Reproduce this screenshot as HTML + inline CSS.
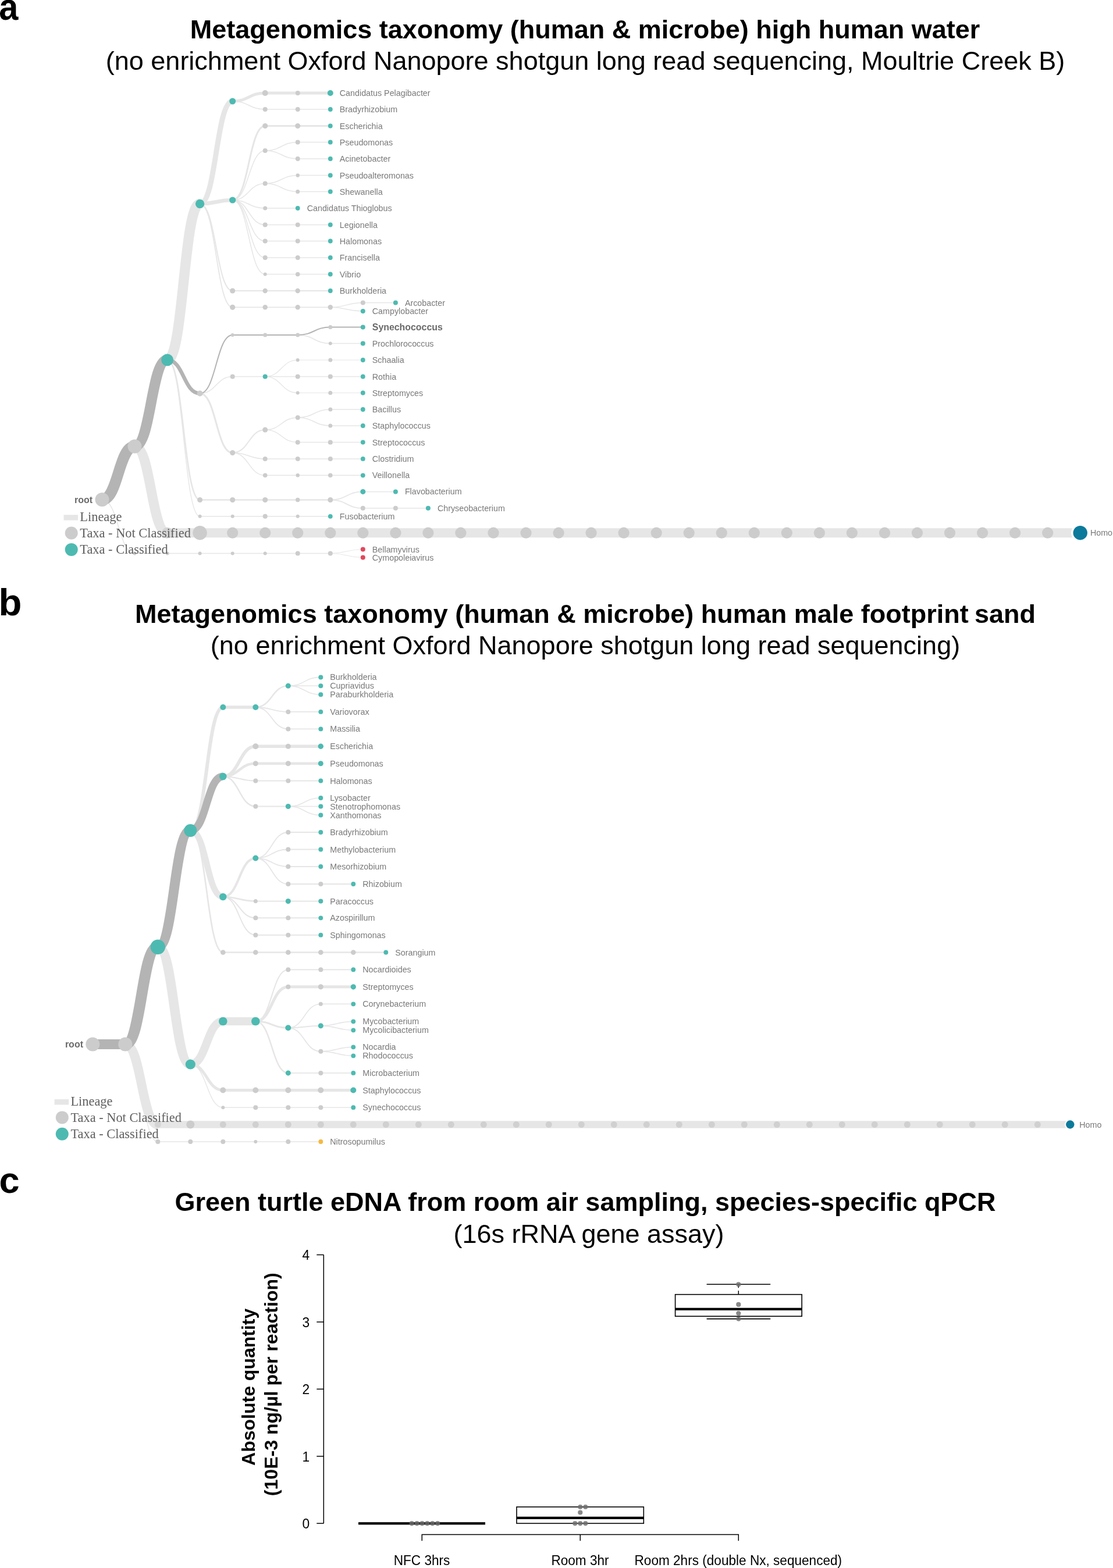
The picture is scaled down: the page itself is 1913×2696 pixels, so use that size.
<!DOCTYPE html>
<html lang="en"><head><meta charset="utf-8"><title>Figure</title>
<style>
html,body{margin:0;padding:0;background:#fff}
body{width:1913px;height:2696px;overflow:hidden}
svg{display:block;font-family:"Liberation Sans","DejaVu Sans",sans-serif}
</style></head>
<body>
<svg width="1913" height="2696" viewBox="0 0 1913 2696">
<rect width="1913" height="2696" fill="#fff"/>
<g id="panel-a"><g fill="none"><path d="M231.5,767.4C259.6,767.4 259.6,916.2 287.6,916.2" stroke="#e6e6e6" stroke-width="17"/><path d="M287.6,916.2H343.6" stroke="#e6e6e6" stroke-width="16"/><path d="M343.6,916.2H399.7" stroke="#e6e6e6" stroke-width="16"/><path d="M399.7,916.2H455.7" stroke="#e6e6e6" stroke-width="16"/><path d="M455.7,916.2H511.7" stroke="#e6e6e6" stroke-width="16"/><path d="M511.7,916.2H567.8" stroke="#e6e6e6" stroke-width="16"/><path d="M567.8,916.2H623.8" stroke="#e6e6e6" stroke-width="16"/><path d="M623.8,916.2H679.9" stroke="#e6e6e6" stroke-width="16"/><path d="M679.9,916.2H735.9" stroke="#e6e6e6" stroke-width="16"/><path d="M735.9,916.2H791.9" stroke="#e6e6e6" stroke-width="16"/><path d="M791.9,916.2H848.0" stroke="#e6e6e6" stroke-width="16"/><path d="M848.0,916.2H904.0" stroke="#e6e6e6" stroke-width="16"/><path d="M904.0,916.2H960.1" stroke="#e6e6e6" stroke-width="16"/><path d="M960.1,916.2H1016.1" stroke="#e6e6e6" stroke-width="16"/><path d="M1016.1,916.2H1072.1" stroke="#e6e6e6" stroke-width="16"/><path d="M1072.1,916.2H1128.2" stroke="#e6e6e6" stroke-width="16"/><path d="M1128.2,916.2H1184.2" stroke="#e6e6e6" stroke-width="16"/><path d="M1184.2,916.2H1240.3" stroke="#e6e6e6" stroke-width="16"/><path d="M1240.3,916.2H1296.3" stroke="#e6e6e6" stroke-width="16"/><path d="M1296.3,916.2H1352.3" stroke="#e6e6e6" stroke-width="16"/><path d="M1352.3,916.2H1408.4" stroke="#e6e6e6" stroke-width="16"/><path d="M1408.4,916.2H1464.4" stroke="#e6e6e6" stroke-width="16"/><path d="M1464.4,916.2H1520.5" stroke="#e6e6e6" stroke-width="16"/><path d="M1520.5,916.2H1576.5" stroke="#e6e6e6" stroke-width="16"/><path d="M1576.5,916.2H1632.5" stroke="#e6e6e6" stroke-width="16"/><path d="M1632.5,916.2H1688.6" stroke="#e6e6e6" stroke-width="16"/><path d="M1688.6,916.2H1744.6" stroke="#e6e6e6" stroke-width="16"/><path d="M1744.6,916.2H1800.7" stroke="#e6e6e6" stroke-width="16"/><path d="M1800.7,916.2H1856.7" stroke="#e6e6e6" stroke-width="16"/><path d="M175.5,859.0C203.5,859.0 203.5,951.5 231.5,951.5" stroke="#e6e6e6" stroke-width="1.5"/><path d="M231.5,951.5H287.6" stroke="#e6e6e6" stroke-width="1.5"/><path d="M287.6,951.5H343.6" stroke="#e6e6e6" stroke-width="1.5"/><path d="M343.6,951.5H399.7" stroke="#e6e6e6" stroke-width="1.5"/><path d="M399.7,951.5H455.7" stroke="#e6e6e6" stroke-width="1.5"/><path d="M455.7,951.5H511.7" stroke="#e6e6e6" stroke-width="1.5"/><path d="M511.7,951.5H567.8" stroke="#e6e6e6" stroke-width="1.5"/><path d="M567.8,951.5C595.8,951.5 595.8,944.5 623.8,944.5" stroke="#e6e6e6" stroke-width="1.2"/><path d="M567.8,951.5C595.8,951.5 595.8,958.5 623.8,958.5" stroke="#e6e6e6" stroke-width="1.2"/><path d="M287.6,618.8C315.6,618.8 315.6,350.5 343.6,350.5" stroke="#e6e6e6" stroke-width="17.5"/><path d="M287.6,618.8C315.6,618.8 315.6,859.5 343.6,859.5" stroke="#e6e6e6" stroke-width="2.6"/><path d="M343.6,859.5H399.7" stroke="#e6e6e6" stroke-width="2.6"/><path d="M399.7,859.5H455.7" stroke="#e6e6e6" stroke-width="2.6"/><path d="M455.7,859.5H511.7" stroke="#e6e6e6" stroke-width="2.6"/><path d="M511.7,859.5H567.8" stroke="#e6e6e6" stroke-width="2.6"/><path d="M567.8,859.5C595.8,859.5 595.8,845.4 623.8,845.4" stroke="#e6e6e6" stroke-width="1.8"/><path d="M623.8,845.4H679.9" stroke="#e6e6e6" stroke-width="1.5"/><path d="M567.8,859.5C595.8,859.5 595.8,873.8 623.8,873.8" stroke="#e6e6e6" stroke-width="1.8"/><path d="M623.8,873.8H679.9" stroke="#e6e6e6" stroke-width="1.5"/><path d="M679.9,873.8H735.9" stroke="#e6e6e6" stroke-width="1.5"/><path d="M287.6,618.8C315.6,618.8 315.6,887.8 343.6,887.8" stroke="#e6e6e6" stroke-width="1.4"/><path d="M343.6,887.8H399.7" stroke="#e6e6e6" stroke-width="1.4"/><path d="M399.7,887.8H455.7" stroke="#e6e6e6" stroke-width="1.4"/><path d="M455.7,887.8H511.7" stroke="#e6e6e6" stroke-width="1.4"/><path d="M511.7,887.8H567.8" stroke="#e6e6e6" stroke-width="1.4"/><path d="M343.6,350.5C371.6,350.5 371.6,174.0 399.7,174.0" stroke="#e6e6e6" stroke-width="9"/><path d="M399.7,174.0C427.7,174.0 427.7,160.0 455.7,160.0" stroke="#e6e6e6" stroke-width="5"/><path d="M455.7,160.0H511.7" stroke="#e6e6e6" stroke-width="5"/><path d="M511.7,160.0H567.8" stroke="#e6e6e6" stroke-width="5"/><path d="M399.7,174.0C427.7,174.0 427.7,188.0 455.7,188.0" stroke="#e6e6e6" stroke-width="1.5"/><path d="M455.7,188.0H511.7" stroke="#e6e6e6" stroke-width="1.5"/><path d="M511.7,188.0H567.8" stroke="#e6e6e6" stroke-width="1.5"/><path d="M343.6,350.5C371.6,350.5 371.6,344.0 399.7,344.0" stroke="#e6e6e6" stroke-width="6.5"/><path d="M399.7,344.0C427.7,344.0 427.7,216.5 455.7,216.5" stroke="#e6e6e6" stroke-width="3"/><path d="M455.7,216.5H511.7" stroke="#e6e6e6" stroke-width="3"/><path d="M511.7,216.5H567.8" stroke="#e6e6e6" stroke-width="3"/><path d="M399.7,344.0C427.7,344.0 427.7,259.0 455.7,259.0" stroke="#e6e6e6" stroke-width="1.5"/><path d="M455.7,259.0C483.7,259.0 483.7,244.5 511.7,244.5" stroke="#e6e6e6" stroke-width="1.5"/><path d="M511.7,244.5H567.8" stroke="#e6e6e6" stroke-width="1.5"/><path d="M455.7,259.0C483.7,259.0 483.7,273.0 511.7,273.0" stroke="#e6e6e6" stroke-width="1.5"/><path d="M511.7,273.0H567.8" stroke="#e6e6e6" stroke-width="1.5"/><path d="M399.7,344.0C427.7,344.0 427.7,315.5 455.7,315.5" stroke="#e6e6e6" stroke-width="1.5"/><path d="M455.7,315.5C483.7,315.5 483.7,301.5 511.7,301.5" stroke="#e6e6e6" stroke-width="1.5"/><path d="M511.7,301.5H567.8" stroke="#e6e6e6" stroke-width="1.5"/><path d="M455.7,315.5C483.7,315.5 483.7,329.5 511.7,329.5" stroke="#e6e6e6" stroke-width="1.5"/><path d="M511.7,329.5H567.8" stroke="#e6e6e6" stroke-width="1.5"/><path d="M399.7,344.0C427.7,344.0 427.7,358.0 455.7,358.0" stroke="#e6e6e6" stroke-width="1.5"/><path d="M455.7,358.0H511.7" stroke="#e6e6e6" stroke-width="1.5"/><path d="M399.7,344.0C427.7,344.0 427.7,386.5 455.7,386.5" stroke="#e6e6e6" stroke-width="1.5"/><path d="M455.7,386.5H511.7" stroke="#e6e6e6" stroke-width="1.5"/><path d="M511.7,386.5H567.8" stroke="#e6e6e6" stroke-width="1.5"/><path d="M399.7,344.0C427.7,344.0 427.7,414.5 455.7,414.5" stroke="#e6e6e6" stroke-width="1.5"/><path d="M455.7,414.5H511.7" stroke="#e6e6e6" stroke-width="1.5"/><path d="M511.7,414.5H567.8" stroke="#e6e6e6" stroke-width="1.5"/><path d="M399.7,344.0C427.7,344.0 427.7,443.0 455.7,443.0" stroke="#e6e6e6" stroke-width="1.5"/><path d="M455.7,443.0H511.7" stroke="#e6e6e6" stroke-width="1.5"/><path d="M511.7,443.0H567.8" stroke="#e6e6e6" stroke-width="1.5"/><path d="M399.7,344.0C427.7,344.0 427.7,471.5 455.7,471.5" stroke="#e6e6e6" stroke-width="1.5"/><path d="M455.7,471.5H511.7" stroke="#e6e6e6" stroke-width="1.5"/><path d="M511.7,471.5H567.8" stroke="#e6e6e6" stroke-width="1.5"/><path d="M343.6,350.5C371.6,350.5 371.6,500.0 399.7,500.0" stroke="#e6e6e6" stroke-width="2"/><path d="M399.7,500.0H455.7" stroke="#e6e6e6" stroke-width="2"/><path d="M455.7,500.0H511.7" stroke="#e6e6e6" stroke-width="2"/><path d="M511.7,500.0H567.8" stroke="#e6e6e6" stroke-width="2"/><path d="M343.6,350.5C371.6,350.5 371.6,528.3 399.7,528.3" stroke="#e6e6e6" stroke-width="1.8"/><path d="M399.7,528.3H455.7" stroke="#e6e6e6" stroke-width="1.8"/><path d="M455.7,528.3H511.7" stroke="#e6e6e6" stroke-width="1.8"/><path d="M511.7,528.3H567.8" stroke="#e6e6e6" stroke-width="1.8"/><path d="M567.8,528.3C595.8,528.3 595.8,520.5 623.8,520.5" stroke="#e6e6e6" stroke-width="1.5"/><path d="M623.8,520.5H679.9" stroke="#e6e6e6" stroke-width="1.5"/><path d="M567.8,528.3C595.8,528.3 595.8,535.0 623.8,535.0" stroke="#e6e6e6" stroke-width="1.5"/><path d="M511.7,576.0C539.8,576.0 539.8,590.5 567.8,590.5" stroke="#e6e6e6" stroke-width="1.5"/><path d="M567.8,590.5H623.8" stroke="#e6e6e6" stroke-width="1.5"/><path d="M343.6,676.5C371.6,676.5 371.6,647.5 399.7,647.5" stroke="#e6e6e6" stroke-width="1.5"/><path d="M399.7,647.5H455.7" stroke="#e6e6e6" stroke-width="1.5"/><path d="M455.7,647.5C483.7,647.5 483.7,619.0 511.7,619.0" stroke="#e6e6e6" stroke-width="1.2"/><path d="M511.7,619.0H567.8" stroke="#e6e6e6" stroke-width="1.2"/><path d="M567.8,619.0H623.8" stroke="#e6e6e6" stroke-width="1.2"/><path d="M455.7,647.5H511.7" stroke="#e6e6e6" stroke-width="1.5"/><path d="M511.7,647.5H567.8" stroke="#e6e6e6" stroke-width="1.5"/><path d="M567.8,647.5H623.8" stroke="#e6e6e6" stroke-width="1.5"/><path d="M455.7,647.5C483.7,647.5 483.7,675.5 511.7,675.5" stroke="#e6e6e6" stroke-width="1.2"/><path d="M511.7,675.5H567.8" stroke="#e6e6e6" stroke-width="1.2"/><path d="M567.8,675.5H623.8" stroke="#e6e6e6" stroke-width="1.2"/><path d="M343.6,676.5C371.6,676.5 371.6,778.5 399.7,778.5" stroke="#e6e6e6" stroke-width="3"/><path d="M399.7,778.5C427.7,778.5 427.7,739.0 455.7,739.0" stroke="#e6e6e6" stroke-width="2"/><path d="M455.7,739.0C483.7,739.0 483.7,718.0 511.7,718.0" stroke="#e6e6e6" stroke-width="1.5"/><path d="M511.7,718.0C539.8,718.0 539.8,704.0 567.8,704.0" stroke="#e6e6e6" stroke-width="1.5"/><path d="M567.8,704.0H623.8" stroke="#e6e6e6" stroke-width="1.5"/><path d="M511.7,718.0C539.8,718.0 539.8,732.0 567.8,732.0" stroke="#e6e6e6" stroke-width="1.5"/><path d="M567.8,732.0H623.8" stroke="#e6e6e6" stroke-width="1.5"/><path d="M455.7,739.0C483.7,739.0 483.7,760.5 511.7,760.5" stroke="#e6e6e6" stroke-width="1.5"/><path d="M511.7,760.5H567.8" stroke="#e6e6e6" stroke-width="1.5"/><path d="M567.8,760.5H623.8" stroke="#e6e6e6" stroke-width="1.5"/><path d="M399.7,778.5C427.7,778.5 427.7,788.9 455.7,788.9" stroke="#e6e6e6" stroke-width="1.5"/><path d="M455.7,788.9H511.7" stroke="#e6e6e6" stroke-width="1.5"/><path d="M511.7,788.9H567.8" stroke="#e6e6e6" stroke-width="1.5"/><path d="M567.8,788.9H623.8" stroke="#e6e6e6" stroke-width="1.5"/><path d="M399.7,778.5C427.7,778.5 427.7,817.3 455.7,817.3" stroke="#e6e6e6" stroke-width="1.5"/><path d="M455.7,817.3H511.7" stroke="#e6e6e6" stroke-width="1.5"/><path d="M511.7,817.3H567.8" stroke="#e6e6e6" stroke-width="1.5"/><path d="M567.8,817.3H623.8" stroke="#e6e6e6" stroke-width="1.5"/><path d="M175.5,859.0C203.5,859.0 203.5,767.4 231.5,767.4" stroke="#b4b4b4" stroke-width="19"/><path d="M231.5,767.4C259.6,767.4 259.6,618.8 287.6,618.8" stroke="#b4b4b4" stroke-width="18"/><path d="M287.6,618.8C315.6,618.8 315.6,676.5 343.6,676.5" stroke="#b4b4b4" stroke-width="6.5"/><path d="M343.6,676.5C371.6,676.5 371.6,576.0 399.7,576.0" stroke="#b4b4b4" stroke-width="2"/><path d="M399.7,576.0H455.7" stroke="#b4b4b4" stroke-width="2"/><path d="M455.7,576.0H511.7" stroke="#b4b4b4" stroke-width="2"/><path d="M511.7,576.0C539.8,576.0 539.8,562.5 567.8,562.5" stroke="#b4b4b4" stroke-width="2"/><path d="M567.8,562.5H623.8" stroke="#b4b4b4" stroke-width="2"/></g><g><circle cx="175.5" cy="859.0" r="12" fill="#cccccc"/><circle cx="231.5" cy="767.4" r="12" fill="#cccccc"/><circle cx="287.6" cy="618.8" r="10.4" fill="#4dbab1"/><circle cx="287.6" cy="916.2" r="9.5" fill="#d4d4d4"/><circle cx="343.6" cy="916.2" r="12.2" fill="#cccccc"/><circle cx="399.7" cy="916.2" r="9.6" fill="#cccccc"/><circle cx="455.7" cy="916.2" r="9.6" fill="#cccccc"/><circle cx="511.7" cy="916.2" r="9.6" fill="#cccccc"/><circle cx="567.8" cy="916.2" r="9.6" fill="#cccccc"/><circle cx="623.8" cy="916.2" r="9.6" fill="#cccccc"/><circle cx="679.9" cy="916.2" r="9.6" fill="#cccccc"/><circle cx="735.9" cy="916.2" r="9.6" fill="#cccccc"/><circle cx="791.9" cy="916.2" r="9.6" fill="#cccccc"/><circle cx="848.0" cy="916.2" r="9.6" fill="#cccccc"/><circle cx="904.0" cy="916.2" r="9.6" fill="#cccccc"/><circle cx="960.1" cy="916.2" r="9.6" fill="#cccccc"/><circle cx="1016.1" cy="916.2" r="9.6" fill="#cccccc"/><circle cx="1072.1" cy="916.2" r="9.6" fill="#cccccc"/><circle cx="1128.2" cy="916.2" r="9.6" fill="#cccccc"/><circle cx="1184.2" cy="916.2" r="9.6" fill="#cccccc"/><circle cx="1240.3" cy="916.2" r="9.6" fill="#cccccc"/><circle cx="1296.3" cy="916.2" r="9.6" fill="#cccccc"/><circle cx="1352.3" cy="916.2" r="9.6" fill="#cccccc"/><circle cx="1408.4" cy="916.2" r="9.6" fill="#cccccc"/><circle cx="1464.4" cy="916.2" r="9.6" fill="#cccccc"/><circle cx="1520.5" cy="916.2" r="9.6" fill="#cccccc"/><circle cx="1576.5" cy="916.2" r="9.6" fill="#cccccc"/><circle cx="1632.5" cy="916.2" r="9.6" fill="#cccccc"/><circle cx="1688.6" cy="916.2" r="9.6" fill="#cccccc"/><circle cx="1744.6" cy="916.2" r="9.6" fill="#cccccc"/><circle cx="1800.7" cy="916.2" r="9.6" fill="#cccccc"/><circle cx="1856.7" cy="916.2" r="12.2" fill="#0c7a9b" stroke="#fff" stroke-width="6.8" paint-order="stroke"/><circle cx="231.5" cy="951.5" r="3" fill="#cccccc"/><circle cx="287.6" cy="951.5" r="3" fill="#cccccc"/><circle cx="343.6" cy="951.5" r="3" fill="#cccccc"/><circle cx="399.7" cy="951.5" r="3" fill="#cccccc"/><circle cx="455.7" cy="951.5" r="3" fill="#cccccc"/><circle cx="511.7" cy="951.5" r="4" fill="#cccccc"/><circle cx="567.8" cy="951.5" r="4" fill="#cccccc"/><circle cx="623.8" cy="944.5" r="4" fill="#e0485c"/><circle cx="623.8" cy="958.5" r="4" fill="#e0485c"/><circle cx="343.6" cy="350.5" r="7.7" fill="#4dbab1"/><circle cx="343.6" cy="676.5" r="5" fill="#cccccc"/><circle cx="343.6" cy="859.5" r="4.5" fill="#cccccc"/><circle cx="399.7" cy="859.5" r="4.5" fill="#cccccc"/><circle cx="455.7" cy="859.5" r="4.5" fill="#cccccc"/><circle cx="511.7" cy="859.5" r="3.7" fill="#cccccc"/><circle cx="567.8" cy="859.5" r="4.5" fill="#cccccc"/><circle cx="623.8" cy="845.4" r="4.5" fill="#4dbab1"/><circle cx="679.9" cy="845.4" r="4" fill="#4dbab1"/><circle cx="623.8" cy="873.8" r="4" fill="#cccccc"/><circle cx="679.9" cy="873.8" r="4" fill="#cccccc"/><circle cx="735.9" cy="873.8" r="4" fill="#4dbab1"/><circle cx="343.6" cy="887.8" r="3" fill="#cccccc"/><circle cx="399.7" cy="887.8" r="3" fill="#cccccc"/><circle cx="455.7" cy="887.8" r="4" fill="#cccccc"/><circle cx="511.7" cy="887.8" r="3" fill="#cccccc"/><circle cx="567.8" cy="887.8" r="3.9" fill="#4dbab1"/><circle cx="399.7" cy="174.0" r="5.5" fill="#4dbab1"/><circle cx="455.7" cy="160.0" r="5" fill="#cccccc"/><circle cx="511.7" cy="160.0" r="4" fill="#cccccc"/><circle cx="567.8" cy="160.0" r="5" fill="#4dbab1"/><circle cx="455.7" cy="188.0" r="4" fill="#cccccc"/><circle cx="511.7" cy="188.0" r="4" fill="#cccccc"/><circle cx="567.8" cy="188.0" r="3.9" fill="#4dbab1"/><circle cx="399.7" cy="344.0" r="5.6" fill="#4dbab1"/><circle cx="455.7" cy="216.5" r="4.5" fill="#cccccc"/><circle cx="511.7" cy="216.5" r="4.5" fill="#cccccc"/><circle cx="567.8" cy="216.5" r="3.9" fill="#4dbab1"/><circle cx="455.7" cy="259.0" r="4" fill="#cccccc"/><circle cx="511.7" cy="244.5" r="4" fill="#cccccc"/><circle cx="567.8" cy="244.5" r="3.9" fill="#4dbab1"/><circle cx="511.7" cy="273.0" r="4" fill="#cccccc"/><circle cx="567.8" cy="273.0" r="3.9" fill="#4dbab1"/><circle cx="455.7" cy="315.5" r="4" fill="#cccccc"/><circle cx="511.7" cy="301.5" r="3.2" fill="#cccccc"/><circle cx="567.8" cy="301.5" r="3.9" fill="#4dbab1"/><circle cx="511.7" cy="329.5" r="3.5" fill="#cccccc"/><circle cx="567.8" cy="329.5" r="3.9" fill="#4dbab1"/><circle cx="455.7" cy="358.0" r="3.5" fill="#cccccc"/><circle cx="511.7" cy="358.0" r="3.9" fill="#4dbab1"/><circle cx="455.7" cy="386.5" r="4" fill="#cccccc"/><circle cx="511.7" cy="386.5" r="4" fill="#cccccc"/><circle cx="567.8" cy="386.5" r="3.9" fill="#4dbab1"/><circle cx="455.7" cy="414.5" r="4" fill="#cccccc"/><circle cx="511.7" cy="414.5" r="4" fill="#cccccc"/><circle cx="567.8" cy="414.5" r="3.9" fill="#4dbab1"/><circle cx="455.7" cy="443.0" r="4" fill="#cccccc"/><circle cx="511.7" cy="443.0" r="4" fill="#cccccc"/><circle cx="567.8" cy="443.0" r="3.9" fill="#4dbab1"/><circle cx="455.7" cy="471.5" r="3" fill="#cccccc"/><circle cx="511.7" cy="471.5" r="3.8" fill="#cccccc"/><circle cx="567.8" cy="471.5" r="3.9" fill="#4dbab1"/><circle cx="399.7" cy="500.0" r="4.6" fill="#cccccc"/><circle cx="455.7" cy="500.0" r="4.2" fill="#cccccc"/><circle cx="511.7" cy="500.0" r="4.2" fill="#cccccc"/><circle cx="567.8" cy="500.0" r="3.9" fill="#4dbab1"/><circle cx="399.7" cy="528.3" r="4.6" fill="#cccccc"/><circle cx="455.7" cy="528.3" r="4.2" fill="#cccccc"/><circle cx="511.7" cy="528.3" r="4.2" fill="#cccccc"/><circle cx="567.8" cy="528.3" r="4.2" fill="#cccccc"/><circle cx="623.8" cy="520.5" r="4" fill="#cccccc"/><circle cx="679.9" cy="520.5" r="4" fill="#4dbab1"/><circle cx="623.8" cy="535.0" r="4" fill="#4dbab1"/><circle cx="399.7" cy="576.0" r="3" fill="#cccccc"/><circle cx="455.7" cy="576.0" r="3.5" fill="#cccccc"/><circle cx="511.7" cy="576.0" r="3.5" fill="#cccccc"/><circle cx="567.8" cy="562.5" r="3.5" fill="#cccccc"/><circle cx="623.8" cy="562.5" r="4" fill="#4dbab1"/><circle cx="567.8" cy="590.5" r="3" fill="#cccccc"/><circle cx="623.8" cy="590.5" r="4" fill="#4dbab1"/><circle cx="399.7" cy="647.5" r="4" fill="#cccccc"/><circle cx="455.7" cy="647.5" r="4" fill="#4dbab1"/><circle cx="511.7" cy="619.0" r="3" fill="#cccccc"/><circle cx="567.8" cy="619.0" r="3.5" fill="#cccccc"/><circle cx="623.8" cy="619.0" r="3.9" fill="#4dbab1"/><circle cx="511.7" cy="647.5" r="4" fill="#cccccc"/><circle cx="567.8" cy="647.5" r="4" fill="#cccccc"/><circle cx="623.8" cy="647.5" r="3.9" fill="#4dbab1"/><circle cx="511.7" cy="675.5" r="3" fill="#cccccc"/><circle cx="567.8" cy="675.5" r="3.5" fill="#cccccc"/><circle cx="623.8" cy="675.5" r="3.9" fill="#4dbab1"/><circle cx="399.7" cy="778.5" r="4.5" fill="#cccccc"/><circle cx="455.7" cy="739.0" r="4.5" fill="#cccccc"/><circle cx="511.7" cy="718.0" r="4" fill="#cccccc"/><circle cx="567.8" cy="704.0" r="3.5" fill="#cccccc"/><circle cx="623.8" cy="704.0" r="3.9" fill="#4dbab1"/><circle cx="567.8" cy="732.0" r="3.5" fill="#cccccc"/><circle cx="623.8" cy="732.0" r="3.9" fill="#4dbab1"/><circle cx="511.7" cy="760.5" r="4" fill="#cccccc"/><circle cx="567.8" cy="760.5" r="4" fill="#cccccc"/><circle cx="623.8" cy="760.5" r="3.9" fill="#4dbab1"/><circle cx="455.7" cy="788.9" r="4" fill="#cccccc"/><circle cx="511.7" cy="788.9" r="4" fill="#cccccc"/><circle cx="567.8" cy="788.9" r="4" fill="#cccccc"/><circle cx="623.8" cy="788.9" r="3.9" fill="#4dbab1"/><circle cx="455.7" cy="817.3" r="3.8" fill="#cccccc"/><circle cx="511.7" cy="817.3" r="3.2" fill="#cccccc"/><circle cx="567.8" cy="817.3" r="3.8" fill="#cccccc"/><circle cx="623.8" cy="817.3" r="3.9" fill="#4dbab1"/></g><g font-size="14.3" fill="#7a7a7a"><text x="159.2" y="864.6" text-anchor="end" font-weight="bold" font-size="16" fill="#6a6a6a">root</text><text x="1873.9" y="921.2">Homo</text><text x="639.8" y="949.5">Bellamyvirus</text><text x="639.8" y="963.5">Cymopoleiavirus</text><text x="695.9" y="850.4">Flavobacterium</text><text x="751.9" y="878.8">Chryseobacterium</text><text x="583.8" y="892.8">Fusobacterium</text><text x="583.8" y="165.0">Candidatus Pelagibacter</text><text x="583.8" y="193.0">Bradyrhizobium</text><text x="583.8" y="221.5">Escherichia</text><text x="583.8" y="249.5">Pseudomonas</text><text x="583.8" y="278.0">Acinetobacter</text><text x="583.8" y="306.5">Pseudoalteromonas</text><text x="583.8" y="334.5">Shewanella</text><text x="527.7" y="363.0">Candidatus Thioglobus</text><text x="583.8" y="391.5">Legionella</text><text x="583.8" y="419.5">Halomonas</text><text x="583.8" y="448.0">Francisella</text><text x="583.8" y="476.5">Vibrio</text><text x="583.8" y="505.0">Burkholderia</text><text x="695.9" y="525.5">Arcobacter</text><text x="639.8" y="540.0">Campylobacter</text><text x="639.8" y="568.0" font-weight="bold" font-size="15.9" fill="#6a6a6a">Synechococcus</text><text x="639.8" y="595.5">Prochlorococcus</text><text x="639.8" y="624.0">Schaalia</text><text x="639.8" y="652.5">Rothia</text><text x="639.8" y="680.5">Streptomyces</text><text x="639.8" y="709.0">Bacillus</text><text x="639.8" y="737.0">Staphylococcus</text><text x="639.8" y="765.5">Streptococcus</text><text x="639.8" y="793.9">Clostridium</text><text x="639.8" y="822.3">Veillonella</text></g><g font-family="'Liberation Serif','DejaVu Serif',serif" font-size="22.4" fill="#606060">
<rect x="109.5" y="885.2" width="24.6" height="9.4" fill="#e6e6e6"/>
<text x="137.3" y="896.0">Lineage</text>
<circle cx="122.7" cy="916.5" r="11" fill="#cccccc"/>
<text x="137.3" y="924.1">Taxa - Not Classified</text>
<circle cx="122.7" cy="944.9" r="11" fill="#4dbab1"/>
<text x="137.3" y="952.4">Taxa - Classified</text>
</g></g>
<g id="panel-b"><g fill="none"><path d="M215.3,1795.5C243.3,1795.5 243.3,1933.5 271.3,1933.5" stroke="#e6e6e6" stroke-width="16"/><path d="M271.3,1933.5H327.3" stroke="#e6e6e6" stroke-width="12.5"/><path d="M327.3,1933.5H383.3" stroke="#e6e6e6" stroke-width="12.5"/><path d="M383.3,1933.5H439.3" stroke="#e6e6e6" stroke-width="12.5"/><path d="M439.3,1933.5H495.3" stroke="#e6e6e6" stroke-width="12.5"/><path d="M495.3,1933.5H551.3" stroke="#e6e6e6" stroke-width="12.5"/><path d="M551.3,1933.5H607.3" stroke="#e6e6e6" stroke-width="12.5"/><path d="M607.3,1933.5H663.3" stroke="#e6e6e6" stroke-width="12.5"/><path d="M663.3,1933.5H719.3" stroke="#e6e6e6" stroke-width="12.5"/><path d="M719.3,1933.5H775.3" stroke="#e6e6e6" stroke-width="12.5"/><path d="M775.3,1933.5H831.3" stroke="#e6e6e6" stroke-width="12.5"/><path d="M831.3,1933.5H887.3" stroke="#e6e6e6" stroke-width="12.5"/><path d="M887.3,1933.5H943.3" stroke="#e6e6e6" stroke-width="12.5"/><path d="M943.3,1933.5H999.3" stroke="#e6e6e6" stroke-width="12.5"/><path d="M999.3,1933.5H1055.3" stroke="#e6e6e6" stroke-width="12.5"/><path d="M1055.3,1933.5H1111.3" stroke="#e6e6e6" stroke-width="12.5"/><path d="M1111.3,1933.5H1167.3" stroke="#e6e6e6" stroke-width="12.5"/><path d="M1167.3,1933.5H1223.3" stroke="#e6e6e6" stroke-width="12.5"/><path d="M1223.3,1933.5H1279.3" stroke="#e6e6e6" stroke-width="12.5"/><path d="M1279.3,1933.5H1335.3" stroke="#e6e6e6" stroke-width="12.5"/><path d="M1335.3,1933.5H1391.3" stroke="#e6e6e6" stroke-width="12.5"/><path d="M1391.3,1933.5H1447.3" stroke="#e6e6e6" stroke-width="12.5"/><path d="M1447.3,1933.5H1503.3" stroke="#e6e6e6" stroke-width="12.5"/><path d="M1503.3,1933.5H1559.3" stroke="#e6e6e6" stroke-width="12.5"/><path d="M1559.3,1933.5H1615.3" stroke="#e6e6e6" stroke-width="12.5"/><path d="M1615.3,1933.5H1671.3" stroke="#e6e6e6" stroke-width="12.5"/><path d="M1671.3,1933.5H1727.3" stroke="#e6e6e6" stroke-width="12.5"/><path d="M1727.3,1933.5H1783.3" stroke="#e6e6e6" stroke-width="12.5"/><path d="M1783.3,1933.5H1839.3" stroke="#e6e6e6" stroke-width="12.5"/><path d="M215.3,1795.5C243.3,1795.5 243.3,1963.0 271.3,1963.0" stroke="#e6e6e6" stroke-width="1.5"/><path d="M271.3,1963.0H327.3" stroke="#e6e6e6" stroke-width="1.5"/><path d="M327.3,1963.0H383.3" stroke="#e6e6e6" stroke-width="1.5"/><path d="M383.3,1963.0H439.3" stroke="#e6e6e6" stroke-width="1.5"/><path d="M439.3,1963.0H495.3" stroke="#e6e6e6" stroke-width="1.5"/><path d="M495.3,1963.0H551.3" stroke="#e6e6e6" stroke-width="1.5"/><path d="M327.3,1428.0C355.3,1428.0 355.3,1216.0 383.3,1216.0" stroke="#e6e6e6" stroke-width="6"/><path d="M383.3,1216.0H439.3" stroke="#e6e6e6" stroke-width="5.5"/><path d="M439.3,1216.0C467.3,1216.0 467.3,1179.3 495.3,1179.3" stroke="#e6e6e6" stroke-width="2.5"/><path d="M495.3,1179.3C523.3,1179.3 523.3,1164.4 551.3,1164.4" stroke="#e6e6e6" stroke-width="1.6"/><path d="M495.3,1179.3H551.3" stroke="#e6e6e6" stroke-width="1.6"/><path d="M495.3,1179.3C523.3,1179.3 523.3,1194.3 551.3,1194.3" stroke="#e6e6e6" stroke-width="1.6"/><path d="M439.3,1216.0C467.3,1216.0 467.3,1223.9 495.3,1223.9" stroke="#e6e6e6" stroke-width="1.8"/><path d="M495.3,1223.9H551.3" stroke="#e6e6e6" stroke-width="1.8"/><path d="M439.3,1216.0C467.3,1216.0 467.3,1253.4 495.3,1253.4" stroke="#e6e6e6" stroke-width="1.8"/><path d="M495.3,1253.4H551.3" stroke="#e6e6e6" stroke-width="1.8"/><path d="M383.3,1335.0C411.3,1335.0 411.3,1283.2 439.3,1283.2" stroke="#e6e6e6" stroke-width="5.5"/><path d="M439.3,1283.2H495.3" stroke="#e6e6e6" stroke-width="5.5"/><path d="M495.3,1283.2H551.3" stroke="#e6e6e6" stroke-width="5.5"/><path d="M383.3,1335.0C411.3,1335.0 411.3,1312.7 439.3,1312.7" stroke="#e6e6e6" stroke-width="4.5"/><path d="M439.3,1312.7H495.3" stroke="#e6e6e6" stroke-width="4.5"/><path d="M495.3,1312.7H551.3" stroke="#e6e6e6" stroke-width="4.5"/><path d="M383.3,1335.0C411.3,1335.0 411.3,1342.5 439.3,1342.5" stroke="#e6e6e6" stroke-width="2"/><path d="M439.3,1342.5H495.3" stroke="#e6e6e6" stroke-width="2"/><path d="M495.3,1342.5H551.3" stroke="#e6e6e6" stroke-width="2"/><path d="M383.3,1335.0C411.3,1335.0 411.3,1386.5 439.3,1386.5" stroke="#e6e6e6" stroke-width="2.5"/><path d="M439.3,1386.5H495.3" stroke="#e6e6e6" stroke-width="2.2"/><path d="M495.3,1386.5C523.3,1386.5 523.3,1372.0 551.3,1372.0" stroke="#e6e6e6" stroke-width="1.6"/><path d="M495.3,1386.5H551.3" stroke="#e6e6e6" stroke-width="1.6"/><path d="M495.3,1386.5C523.3,1386.5 523.3,1401.5 551.3,1401.5" stroke="#e6e6e6" stroke-width="1.6"/><path d="M327.3,1428.0C355.3,1428.0 355.3,1542.0 383.3,1542.0" stroke="#e6e6e6" stroke-width="10.5"/><path d="M383.3,1542.0C411.3,1542.0 411.3,1475.5 439.3,1475.5" stroke="#e6e6e6" stroke-width="4"/><path d="M439.3,1475.5C467.3,1475.5 467.3,1431.0 495.3,1431.0" stroke="#e6e6e6" stroke-width="1.8"/><path d="M495.3,1431.0H551.3" stroke="#e6e6e6" stroke-width="1.8"/><path d="M439.3,1475.5C467.3,1475.5 467.3,1460.5 495.3,1460.5" stroke="#e6e6e6" stroke-width="1.8"/><path d="M495.3,1460.5H551.3" stroke="#e6e6e6" stroke-width="1.8"/><path d="M439.3,1475.5C467.3,1475.5 467.3,1490.0 495.3,1490.0" stroke="#e6e6e6" stroke-width="1.8"/><path d="M495.3,1490.0H551.3" stroke="#e6e6e6" stroke-width="1.8"/><path d="M439.3,1475.5C467.3,1475.5 467.3,1520.0 495.3,1520.0" stroke="#e6e6e6" stroke-width="1.8"/><path d="M495.3,1520.0H551.3" stroke="#e6e6e6" stroke-width="1.8"/><path d="M551.3,1520.0H607.3" stroke="#e6e6e6" stroke-width="1.8"/><path d="M383.3,1542.0C411.3,1542.0 411.3,1549.5 439.3,1549.5" stroke="#e6e6e6" stroke-width="2.6"/><path d="M439.3,1549.5H495.3" stroke="#e6e6e6" stroke-width="2"/><path d="M495.3,1549.5H551.3" stroke="#e6e6e6" stroke-width="1.8"/><path d="M383.3,1542.0C411.3,1542.0 411.3,1578.3 439.3,1578.3" stroke="#e6e6e6" stroke-width="2"/><path d="M439.3,1578.3H495.3" stroke="#e6e6e6" stroke-width="2"/><path d="M495.3,1578.3H551.3" stroke="#e6e6e6" stroke-width="2"/><path d="M383.3,1542.0C411.3,1542.0 411.3,1607.7 439.3,1607.7" stroke="#e6e6e6" stroke-width="2"/><path d="M439.3,1607.7H495.3" stroke="#e6e6e6" stroke-width="2"/><path d="M495.3,1607.7H551.3" stroke="#e6e6e6" stroke-width="2"/><path d="M327.3,1428.0C355.3,1428.0 355.3,1637.5 383.3,1637.5" stroke="#e6e6e6" stroke-width="2.6"/><path d="M383.3,1637.5H439.3" stroke="#e6e6e6" stroke-width="2.6"/><path d="M439.3,1637.5H495.3" stroke="#e6e6e6" stroke-width="2.6"/><path d="M495.3,1637.5H551.3" stroke="#e6e6e6" stroke-width="2.6"/><path d="M551.3,1637.5H607.3" stroke="#e6e6e6" stroke-width="2.6"/><path d="M607.3,1637.5H663.3" stroke="#e6e6e6" stroke-width="2.6"/><path d="M271.3,1628.3C299.3,1628.3 299.3,1830.0 327.3,1830.0" stroke="#e6e6e6" stroke-width="16.5"/><path d="M327.3,1830.0C355.3,1830.0 355.3,1756.0 383.3,1756.0" stroke="#e6e6e6" stroke-width="14"/><path d="M383.3,1756.0H439.3" stroke="#e6e6e6" stroke-width="14"/><path d="M439.3,1756.0C467.3,1756.0 467.3,1667.2 495.3,1667.2" stroke="#e6e6e6" stroke-width="2"/><path d="M495.3,1667.2H551.3" stroke="#e6e6e6" stroke-width="2"/><path d="M551.3,1667.2H607.3" stroke="#e6e6e6" stroke-width="2"/><path d="M439.3,1756.0C467.3,1756.0 467.3,1696.8 495.3,1696.8" stroke="#e6e6e6" stroke-width="5"/><path d="M495.3,1696.8H551.3" stroke="#e6e6e6" stroke-width="5"/><path d="M551.3,1696.8H607.3" stroke="#e6e6e6" stroke-width="5"/><path d="M439.3,1756.0C467.3,1756.0 467.3,1767.3 495.3,1767.3" stroke="#e6e6e6" stroke-width="3"/><path d="M495.3,1767.3C523.3,1767.3 523.3,1726.3 551.3,1726.3" stroke="#e6e6e6" stroke-width="1.6"/><path d="M551.3,1726.3H607.3" stroke="#e6e6e6" stroke-width="1.6"/><path d="M495.3,1767.3C523.3,1767.3 523.3,1763.8 551.3,1763.8" stroke="#e6e6e6" stroke-width="2"/><path d="M551.3,1763.8C579.3,1763.8 579.3,1756.3 607.3,1756.3" stroke="#e6e6e6" stroke-width="1.5"/><path d="M551.3,1763.8C579.3,1763.8 579.3,1771.3 607.3,1771.3" stroke="#e6e6e6" stroke-width="1.5"/><path d="M495.3,1767.3C523.3,1767.3 523.3,1807.8 551.3,1807.8" stroke="#e6e6e6" stroke-width="1.8"/><path d="M551.3,1807.8C579.3,1807.8 579.3,1800.3 607.3,1800.3" stroke="#e6e6e6" stroke-width="1.5"/><path d="M551.3,1807.8C579.3,1807.8 579.3,1815.3 607.3,1815.3" stroke="#e6e6e6" stroke-width="1.5"/><path d="M439.3,1756.0C467.3,1756.0 467.3,1844.9 495.3,1844.9" stroke="#e6e6e6" stroke-width="2.5"/><path d="M495.3,1844.9H551.3" stroke="#e6e6e6" stroke-width="1.8"/><path d="M551.3,1844.9H607.3" stroke="#e6e6e6" stroke-width="1.8"/><path d="M327.3,1830.0C355.3,1830.0 355.3,1874.5 383.3,1874.5" stroke="#e6e6e6" stroke-width="5"/><path d="M383.3,1874.5H439.3" stroke="#e6e6e6" stroke-width="5"/><path d="M439.3,1874.5H495.3" stroke="#e6e6e6" stroke-width="5"/><path d="M495.3,1874.5H551.3" stroke="#e6e6e6" stroke-width="5"/><path d="M551.3,1874.5H607.3" stroke="#e6e6e6" stroke-width="5"/><path d="M327.3,1830.0C355.3,1830.0 355.3,1904.2 383.3,1904.2" stroke="#e6e6e6" stroke-width="1.4"/><path d="M383.3,1904.2H439.3" stroke="#e6e6e6" stroke-width="1.4"/><path d="M439.3,1904.2H495.3" stroke="#e6e6e6" stroke-width="1.4"/><path d="M495.3,1904.2H551.3" stroke="#e6e6e6" stroke-width="1.4"/><path d="M551.3,1904.2H607.3" stroke="#e6e6e6" stroke-width="1.4"/><path d="M159.3,1795.5H215.3" stroke="#b4b4b4" stroke-width="17"/><path d="M215.3,1795.5C243.3,1795.5 243.3,1628.3 271.3,1628.3" stroke="#b4b4b4" stroke-width="19"/><path d="M271.3,1628.3C299.3,1628.3 299.3,1428.0 327.3,1428.0" stroke="#b4b4b4" stroke-width="17"/><path d="M327.3,1428.0C355.3,1428.0 355.3,1335.0 383.3,1335.0" stroke="#b4b4b4" stroke-width="13"/></g><g><circle cx="159.3" cy="1795.5" r="12" fill="#cccccc"/><circle cx="215.3" cy="1795.5" r="12" fill="#cccccc"/><circle cx="271.3" cy="1628.3" r="12.7" fill="#4dbab1"/><circle cx="271.3" cy="1933.5" r="5.5" fill="#d4d4d4"/><circle cx="327.3" cy="1933.5" r="7" fill="#cccccc"/><circle cx="383.3" cy="1933.5" r="5.5" fill="#d0d0d0"/><circle cx="439.3" cy="1933.5" r="5.5" fill="#d0d0d0"/><circle cx="495.3" cy="1933.5" r="5.5" fill="#d0d0d0"/><circle cx="551.3" cy="1933.5" r="5.5" fill="#d0d0d0"/><circle cx="607.3" cy="1933.5" r="5.5" fill="#d0d0d0"/><circle cx="663.3" cy="1933.5" r="5.5" fill="#d0d0d0"/><circle cx="719.3" cy="1933.5" r="5.5" fill="#d0d0d0"/><circle cx="775.3" cy="1933.5" r="5.5" fill="#d0d0d0"/><circle cx="831.3" cy="1933.5" r="5.5" fill="#d0d0d0"/><circle cx="887.3" cy="1933.5" r="5.5" fill="#d0d0d0"/><circle cx="943.3" cy="1933.5" r="5.5" fill="#d0d0d0"/><circle cx="999.3" cy="1933.5" r="5.5" fill="#d0d0d0"/><circle cx="1055.3" cy="1933.5" r="5.5" fill="#d0d0d0"/><circle cx="1111.3" cy="1933.5" r="5.5" fill="#d0d0d0"/><circle cx="1167.3" cy="1933.5" r="5.5" fill="#d0d0d0"/><circle cx="1223.3" cy="1933.5" r="5.5" fill="#d0d0d0"/><circle cx="1279.3" cy="1933.5" r="5.5" fill="#d0d0d0"/><circle cx="1335.3" cy="1933.5" r="5.5" fill="#d0d0d0"/><circle cx="1391.3" cy="1933.5" r="5.5" fill="#d0d0d0"/><circle cx="1447.3" cy="1933.5" r="5.5" fill="#d0d0d0"/><circle cx="1503.3" cy="1933.5" r="5.5" fill="#d0d0d0"/><circle cx="1559.3" cy="1933.5" r="5.5" fill="#d0d0d0"/><circle cx="1615.3" cy="1933.5" r="5.5" fill="#d0d0d0"/><circle cx="1671.3" cy="1933.5" r="5.5" fill="#d0d0d0"/><circle cx="1727.3" cy="1933.5" r="5.5" fill="#d0d0d0"/><circle cx="1783.3" cy="1933.5" r="5.5" fill="#d0d0d0"/><circle cx="1839.3" cy="1933.5" r="7.2" fill="#0c7a9b" stroke="#fff" stroke-width="4.0" paint-order="stroke"/><circle cx="271.3" cy="1963.0" r="4" fill="#cccccc"/><circle cx="327.3" cy="1963.0" r="4" fill="#cccccc"/><circle cx="383.3" cy="1963.0" r="4" fill="#cccccc"/><circle cx="439.3" cy="1963.0" r="3" fill="#cccccc"/><circle cx="495.3" cy="1963.0" r="4" fill="#cccccc"/><circle cx="551.3" cy="1963.0" r="3.9" fill="#f5b942"/><circle cx="327.3" cy="1428.0" r="11" fill="#4dbab1"/><circle cx="383.3" cy="1216.0" r="5" fill="#4dbab1"/><circle cx="439.3" cy="1216.0" r="5" fill="#4dbab1"/><circle cx="495.3" cy="1179.3" r="4.5" fill="#4dbab1"/><circle cx="551.3" cy="1164.4" r="4" fill="#4dbab1"/><circle cx="551.3" cy="1179.3" r="4" fill="#4dbab1"/><circle cx="551.3" cy="1194.3" r="4" fill="#4dbab1"/><circle cx="495.3" cy="1223.9" r="4" fill="#cccccc"/><circle cx="551.3" cy="1223.9" r="3.9" fill="#4dbab1"/><circle cx="495.3" cy="1253.4" r="4" fill="#cccccc"/><circle cx="551.3" cy="1253.4" r="3.9" fill="#4dbab1"/><circle cx="383.3" cy="1335.0" r="6.3" fill="#4dbab1"/><circle cx="439.3" cy="1283.2" r="5" fill="#cccccc"/><circle cx="495.3" cy="1283.2" r="4.5" fill="#cccccc"/><circle cx="551.3" cy="1283.2" r="4.7" fill="#4dbab1"/><circle cx="439.3" cy="1312.7" r="4.5" fill="#cccccc"/><circle cx="495.3" cy="1312.7" r="4.5" fill="#cccccc"/><circle cx="551.3" cy="1312.7" r="4.5" fill="#4dbab1"/><circle cx="439.3" cy="1342.5" r="4" fill="#cccccc"/><circle cx="495.3" cy="1342.5" r="4" fill="#cccccc"/><circle cx="551.3" cy="1342.5" r="3.9" fill="#4dbab1"/><circle cx="439.3" cy="1386.5" r="4" fill="#cccccc"/><circle cx="495.3" cy="1386.5" r="4.5" fill="#4dbab1"/><circle cx="551.3" cy="1372.0" r="4" fill="#4dbab1"/><circle cx="551.3" cy="1386.5" r="4" fill="#4dbab1"/><circle cx="551.3" cy="1401.5" r="4" fill="#4dbab1"/><circle cx="383.3" cy="1542.0" r="6.2" fill="#4dbab1"/><circle cx="439.3" cy="1475.5" r="5" fill="#4dbab1"/><circle cx="495.3" cy="1431.0" r="4" fill="#cccccc"/><circle cx="551.3" cy="1431.0" r="3.9" fill="#4dbab1"/><circle cx="495.3" cy="1460.5" r="4" fill="#cccccc"/><circle cx="551.3" cy="1460.5" r="3.9" fill="#4dbab1"/><circle cx="495.3" cy="1490.0" r="4" fill="#cccccc"/><circle cx="551.3" cy="1490.0" r="3.9" fill="#4dbab1"/><circle cx="495.3" cy="1520.0" r="4" fill="#cccccc"/><circle cx="551.3" cy="1520.0" r="4" fill="#cccccc"/><circle cx="607.3" cy="1520.0" r="3.9" fill="#4dbab1"/><circle cx="439.3" cy="1549.5" r="3.5" fill="#cccccc"/><circle cx="495.3" cy="1549.5" r="4.5" fill="#4dbab1"/><circle cx="551.3" cy="1549.5" r="4" fill="#4dbab1"/><circle cx="439.3" cy="1578.3" r="4" fill="#cccccc"/><circle cx="495.3" cy="1578.3" r="4" fill="#cccccc"/><circle cx="551.3" cy="1578.3" r="3.9" fill="#4dbab1"/><circle cx="439.3" cy="1607.7" r="4" fill="#cccccc"/><circle cx="495.3" cy="1607.7" r="4" fill="#cccccc"/><circle cx="551.3" cy="1607.7" r="3.9" fill="#4dbab1"/><circle cx="383.3" cy="1637.5" r="4.3" fill="#cccccc"/><circle cx="439.3" cy="1637.5" r="4.3" fill="#cccccc"/><circle cx="495.3" cy="1637.5" r="4.3" fill="#cccccc"/><circle cx="551.3" cy="1637.5" r="4.3" fill="#cccccc"/><circle cx="607.3" cy="1637.5" r="4.3" fill="#cccccc"/><circle cx="663.3" cy="1637.5" r="3.9" fill="#4dbab1"/><circle cx="327.3" cy="1830.0" r="8.6" fill="#4dbab1"/><circle cx="383.3" cy="1756.0" r="7.3" fill="#4dbab1"/><circle cx="439.3" cy="1756.0" r="7.3" fill="#4dbab1"/><circle cx="495.3" cy="1667.2" r="4" fill="#cccccc"/><circle cx="551.3" cy="1667.2" r="4" fill="#cccccc"/><circle cx="607.3" cy="1667.2" r="3.9" fill="#4dbab1"/><circle cx="495.3" cy="1696.8" r="4" fill="#cccccc"/><circle cx="551.3" cy="1696.8" r="4.5" fill="#cccccc"/><circle cx="607.3" cy="1696.8" r="4.6" fill="#4dbab1"/><circle cx="495.3" cy="1767.3" r="5" fill="#4dbab1"/><circle cx="551.3" cy="1726.3" r="3.5" fill="#cccccc"/><circle cx="607.3" cy="1726.3" r="3.9" fill="#4dbab1"/><circle cx="551.3" cy="1763.8" r="4.5" fill="#4dbab1"/><circle cx="607.3" cy="1756.3" r="3.9" fill="#4dbab1"/><circle cx="607.3" cy="1771.3" r="3.9" fill="#4dbab1"/><circle cx="551.3" cy="1807.8" r="4" fill="#cccccc"/><circle cx="607.3" cy="1800.3" r="3.9" fill="#4dbab1"/><circle cx="607.3" cy="1815.3" r="3.9" fill="#4dbab1"/><circle cx="495.3" cy="1844.9" r="4.5" fill="#4dbab1"/><circle cx="551.3" cy="1844.9" r="4" fill="#cccccc"/><circle cx="607.3" cy="1844.9" r="3.9" fill="#4dbab1"/><circle cx="383.3" cy="1874.5" r="5" fill="#cccccc"/><circle cx="439.3" cy="1874.5" r="5" fill="#cccccc"/><circle cx="495.3" cy="1874.5" r="5" fill="#cccccc"/><circle cx="551.3" cy="1874.5" r="5" fill="#cccccc"/><circle cx="607.3" cy="1874.5" r="5" fill="#4dbab1"/><circle cx="383.3" cy="1904.2" r="3" fill="#cccccc"/><circle cx="439.3" cy="1904.2" r="4" fill="#cccccc"/><circle cx="495.3" cy="1904.2" r="4" fill="#cccccc"/><circle cx="551.3" cy="1904.2" r="4" fill="#cccccc"/><circle cx="607.3" cy="1904.2" r="3.9" fill="#4dbab1"/></g><g font-size="14.3" fill="#7a7a7a"><text x="143.0" y="1801.1" text-anchor="end" font-weight="bold" font-size="16" fill="#6a6a6a">root</text><text x="1855.3" y="1938.5">Homo</text><text x="567.3" y="1968.0">Nitrosopumilus</text><text x="567.3" y="1169.4">Burkholderia</text><text x="567.3" y="1184.3">Cupriavidus</text><text x="567.3" y="1199.3">Paraburkholderia</text><text x="567.3" y="1228.9">Variovorax</text><text x="567.3" y="1258.4">Massilia</text><text x="567.3" y="1288.2">Escherichia</text><text x="567.3" y="1317.7">Pseudomonas</text><text x="567.3" y="1347.5">Halomonas</text><text x="567.3" y="1377.0">Lysobacter</text><text x="567.3" y="1391.5">Stenotrophomonas</text><text x="567.3" y="1406.5">Xanthomonas</text><text x="567.3" y="1436.0">Bradyrhizobium</text><text x="567.3" y="1465.5">Methylobacterium</text><text x="567.3" y="1495.0">Mesorhizobium</text><text x="623.3" y="1525.0">Rhizobium</text><text x="567.3" y="1554.5">Paracoccus</text><text x="567.3" y="1583.3">Azospirillum</text><text x="567.3" y="1612.7">Sphingomonas</text><text x="679.3" y="1642.5">Sorangium</text><text x="623.3" y="1672.2">Nocardioides</text><text x="623.3" y="1701.8">Streptomyces</text><text x="623.3" y="1731.3">Corynebacterium</text><text x="623.3" y="1761.3">Mycobacterium</text><text x="623.3" y="1776.3">Mycolicibacterium</text><text x="623.3" y="1805.3">Nocardia</text><text x="623.3" y="1820.3">Rhodococcus</text><text x="623.3" y="1849.9">Microbacterium</text><text x="623.3" y="1879.5">Staphylococcus</text><text x="623.3" y="1909.2">Synechococcus</text></g><g font-family="'Liberation Serif','DejaVu Serif',serif" font-size="22.4" fill="#606060">
<rect x="93.6" y="1890.1" width="24.6" height="9.4" fill="#e6e6e6"/>
<text x="121.4" y="1900.9">Lineage</text>
<circle cx="106.8" cy="1921.4" r="11" fill="#cccccc"/>
<text x="121.4" y="1929.0">Taxa - Not Classified</text>
<circle cx="106.8" cy="1949.8" r="11" fill="#4dbab1"/>
<text x="121.4" y="1957.3">Taxa - Classified</text>
</g></g>
<g id="panel-c"><g stroke="#000" stroke-width="1.5" fill="none"><path d="M556.3,2619.3V2157.5"/><path d="M544.3,2619.3H556.3"/><path d="M544.3,2503.9H556.3"/><path d="M544.3,2388.4H556.3"/><path d="M544.3,2273.0H556.3"/><path d="M544.3,2157.5H556.3"/><path d="M725.3,2649.3V2638.5H1269.3V2649.3M997.3,2638.5V2649.3"/><path d="M616,2619.3H834" stroke-width="4.2"/><rect x="888" y="2591" width="218.3" height="28.3" stroke-width="1.6"/><path d="M888,2609.9H1106.3" stroke-width="4.2"/><rect x="1160.6" y="2225.7" width="217.6" height="37.5" stroke-width="1.6"/><path d="M1160.6,2250.8H1378.2" stroke-width="4.2"/><path d="M1214.6,2208.3H1324.2M1214.6,2267.6H1324.2" stroke-width="1.6"/><path d="M1269.3,2208.3V2225.7" stroke-dasharray="6,5"/><path d="M1269.3,2263.2V2267.6"/></g><g fill="#6e6e6e" fill-opacity="0.82"><circle cx="707.7" cy="2619.3" r="4.1"/><circle cx="716.6" cy="2619.3" r="4.1"/><circle cx="725.5" cy="2619.3" r="4.1"/><circle cx="734.4" cy="2619.3" r="4.1"/><circle cx="743.3" cy="2619.3" r="4.1"/><circle cx="752.2" cy="2619.3" r="4.1"/><circle cx="997.3" cy="2591.0" r="4.1"/><circle cx="1006.3" cy="2591.0" r="4.1"/><circle cx="997.3" cy="2600.5" r="4.1"/><circle cx="988.3" cy="2619.3" r="4.1"/><circle cx="997.3" cy="2619.3" r="4.1"/><circle cx="1006.3" cy="2619.3" r="4.1"/><circle cx="1269.3" cy="2208.3" r="4.1"/><circle cx="1269.3" cy="2242.9" r="4.1"/><circle cx="1269.3" cy="2258.1" r="4.1"/><circle cx="1269.3" cy="2267.6" r="4.1"/></g><g font-size="22.8" fill="#000" text-anchor="end"><text transform="translate(532.2,2628.1) scale(1,1.06)">0</text><text transform="translate(532.2,2512.7) scale(1,1.06)">1</text><text transform="translate(532.2,2397.2) scale(1,1.06)">2</text><text transform="translate(532.2,2281.8) scale(1,1.06)">3</text><text transform="translate(532.2,2166.3) scale(1,1.06)">4</text></g><g font-size="22.6" fill="#000" text-anchor="middle"><text transform="translate(725,2690.5) scale(1,1.07)">NFC 3hrs</text><text transform="translate(997,2690.5) scale(1,1.07)">Room 3hr</text><text transform="translate(1268.8,2690.5) scale(1,1.07)">Room 2hrs (double Nx, sequenced)</text></g><g font-size="32" font-weight="bold" fill="#000" text-anchor="middle"><text transform="translate(437.5,2384.8) rotate(-90)">Absolute quantity</text><text transform="translate(476.5,2380.2) rotate(-90)" textLength="384" lengthAdjust="spacingAndGlyphs">(10E-3 ng/µl per reaction)</text></g></g>
<g fill="#000" text-anchor="middle" font-size="45">
<text x="1005.5" y="66" font-weight="bold">Metagenomics taxonomy (human &amp; microbe) high human water</text>
<text x="1006" y="119.7">(no enrichment Oxford Nanopore shotgun long read sequencing, Moultrie Creek B)</text>
<text y="1070.5" font-weight="bold" text-anchor="start"><tspan x="232.1">Metagenomics taxonomy (human &amp; microbe) human male footprint </tspan><tspan x="1675">sand</tspan></text>
<text x="1006" y="1125.4">(no enrichment Oxford Nanopore shotgun long read sequencing)</text>
<text x="1006" y="2082.2" font-weight="bold">Green turtle eDNA from room air sampling, species-specific qPCR</text>
<text x="1012" y="2137">(16s rRNA gene assay)</text>
</g>
<g fill="#000" font-weight="bold" font-size="57">
<text transform="translate(-1.8,33.8) scale(0.93,1)" font-size="64">a</text>
<text transform="translate(-2.5,1058) scale(1.02,1)" font-size="64">b</text>
<text transform="translate(-1.6,2050.9) scale(0.993,1)" font-size="63.7">c</text>
</g>
</svg>
</body></html>
